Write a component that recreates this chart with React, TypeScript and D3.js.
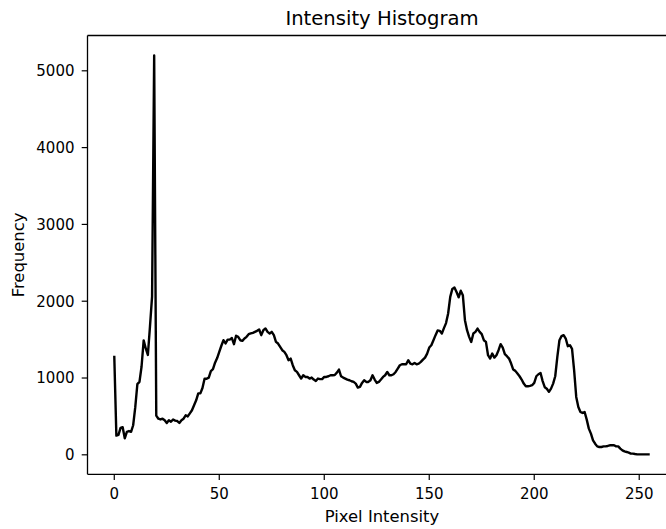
import React from "react";
import * as d3 from "d3";

const frequency: number[] = [
  1290, 250, 260, 350, 360, 215, 300, 310, 300, 385,
  620, 920, 950, 1150, 1490, 1385, 1300, 1670, 2060, 5200,
  510, 470, 460, 470, 450, 415, 450, 430, 460, 445,
  440, 415, 450, 470, 515, 500, 540, 580, 645, 710,
  800, 800, 870, 990, 990, 1005, 1090, 1115, 1200, 1260,
  1340, 1420, 1492, 1450, 1500, 1500, 1520, 1440, 1550, 1536,
  1492, 1484, 1514, 1536, 1570, 1580, 1588, 1601, 1614, 1632,
  1558, 1623, 1645, 1601, 1580, 1601, 1558, 1471, 1449, 1406,
  1362, 1340, 1297, 1232, 1253, 1167, 1101, 1080, 1036, 993,
  1036, 1014, 1014, 993, 1006, 980, 962, 993, 985, 985,
  1014, 1014, 1023, 1036, 1036, 1040, 1070, 1110, 1023, 1006,
  993, 980, 971, 958, 949, 927, 875, 884, 936, 971,
  949, 949, 971, 1036, 980, 936, 949, 980, 1014, 1036,
  1079, 1036, 1036, 1049, 1079, 1123, 1166, 1179, 1179, 1179,
  1232, 1188, 1179, 1197, 1179, 1188, 1210, 1240, 1266, 1318,
  1397, 1427, 1492, 1558, 1620, 1614, 1579, 1650, 1715, 1840,
  2057, 2160, 2179, 2120, 2050, 2136, 2079, 1753, 1623, 1536,
  1470, 1579, 1601, 1644, 1601, 1571, 1492, 1470, 1297, 1253,
  1318, 1266, 1297, 1362, 1440, 1397, 1310, 1284, 1253, 1188,
  1110, 1093, 1058, 1023, 980, 927, 893, 893, 897, 906,
  936, 1023, 1049, 1066, 960, 880, 860, 820, 862, 927,
  1023, 1275, 1492, 1545, 1558, 1514, 1414, 1427, 1380, 1100,
  754, 623, 558, 545, 558, 458, 341, 276, 189, 145,
  110, 102, 102, 110, 110, 115, 124, 124, 124, 110,
  110, 80, 58, 45, 37, 28, 15, 15, 10, 6,
  6, 6, 6, 6, 6, 6,
];

const xTicks: number[] = [0, 50, 100, 150, 200, 250];
const yTicks: number[] = [0, 1000, 2000, 3000, 4000, 5000];
const titleText = "Intensity Histogram";
const xLabelText = "Pixel Intensity";
const yLabelText = "Frequency";

const W = 666;
const H = 529;
const left = 87.5;
const right = 676.5;
const top = 35.5;
const bottom = 474.3;

export default function App() {
  const n = frequency.length;
  const xr = n - 1;
  const x = d3
    .scaleLinear()
    .domain([-0.05 * xr, xr * 1.05])
    .range([left, right]);
  const ymin = d3.min(frequency) as number;
  const ymax = d3.max(frequency) as number;
  const yr = ymax - ymin;
  const y = d3
    .scaleLinear()
    .domain([ymin - 0.05 * yr, ymax + 0.05 * yr])
    .range([bottom, top]);
  const line = d3
    .line<number>()
    .x((_, i) => x(i))
    .y((d) => y(d));
  const font = "'DejaVu Sans', sans-serif";
  const tickFs = 15;
  const labelFs = 16.4;
  const titleFs = 19.6;
  return (
    <div style={{ position: "absolute", left: 0, top: 0 }}>
      <svg width={W} height={H} style={{ display: "block", background: "#fff" }}>
        <rect x={0} y={0} width={W} height={H} fill="#fff" />
        <path
          d={line(frequency) || ""}
          fill="none"
          stroke="#000"
          strokeWidth={2.4}
          strokeLinejoin="round"
          strokeLinecap="butt"
        />
        <g stroke="#000" strokeWidth={1.3} fill="none">
          <line x1={left} x2={left} y1={top} y2={bottom} />
          <line x1={left} x2={right} y1={bottom} y2={bottom} />
          <line x1={left} x2={right} y1={top} y2={top} />
          <line x1={right} x2={right} y1={top} y2={bottom} />
        </g>
        {xTicks.map((t) => (
          <g key={"x" + t}>
            <line x1={x(t)} x2={x(t)} y1={bottom} y2={bottom + 5.8} stroke="#000" strokeWidth={1.2} />
            <text
              x={x(t)}
              y={499}
              textAnchor="middle"
              fontFamily={font}
              fontSize={tickFs}
              fill="#000"
            >
              {t}
            </text>
          </g>
        ))}
        {yTicks.map((t) => (
          <g key={"y" + t}>
            <line x1={left - 5.8} x2={left} y1={y(t)} y2={y(t)} stroke="#000" strokeWidth={1.2} />
            <text
              x={left - 13}
              y={y(t)}
              dy="0.36em"
              textAnchor="end"
              fontFamily={font}
              fontSize={tickFs}
              fill="#000"
            >
              {t}
            </text>
          </g>
        ))}
        <text x={(left + right) / 2} y={522} textAnchor="middle" fontFamily={font} fontSize={labelFs} fill="#000">
          {xLabelText}
        </text>
        <text
          transform={`translate(${24},${(top + bottom) / 2}) rotate(-90)`}
          textAnchor="middle"
          fontFamily={font}
          fontSize={labelFs}
          fill="#000"
        >
          {yLabelText}
        </text>
        <text x={(left + right) / 2} y={25} textAnchor="middle" fontFamily={font} fontSize={titleFs} fill="#000">
          {titleText}
        </text>
      </svg>
    </div>
  );
}
